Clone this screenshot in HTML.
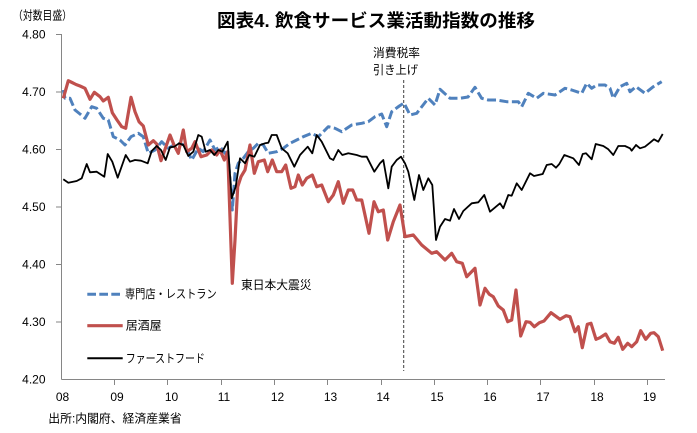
<!DOCTYPE html>
<html><head><meta charset="utf-8"><style>
html,body{margin:0;padding:0;background:#fff;}
svg{display:block;}
text{font-family:"Liberation Sans","Noto Sans CJK JP",sans-serif;fill:#000;}
</style></head><body>
<svg width="697" height="433" viewBox="0 0 697 433" xmlns="http://www.w3.org/2000/svg">
<rect width="697" height="433" fill="#fff"/>
<!-- title -->
<text x="217" y="21" font-size="18" font-weight="bold" dominant-baseline="central" textLength="318" lengthAdjust="spacingAndGlyphs">図表4. 飲食サービス業活動指数の推移</text>
<text x="13" y="15.5" font-size="12" dominant-baseline="central" textLength="59" lengthAdjust="spacingAndGlyphs">（対数目盛）</text>
<!-- axes -->
<g stroke="#868686" stroke-width="1" fill="none">
<line x1="61.5" y1="34" x2="61.5" y2="379.5"/>
<line x1="61.5" y1="379.5" x2="665" y2="379.5"/>
<line x1="56" y1="34.5" x2="61.5" y2="34.5"/>
<line x1="56" y1="92" x2="61.5" y2="92"/>
<line x1="56" y1="149.5" x2="61.5" y2="149.5"/>
<line x1="56" y1="207" x2="61.5" y2="207"/>
<line x1="56" y1="264.5" x2="61.5" y2="264.5"/>
<line x1="56" y1="322" x2="61.5" y2="322"/>
<line x1="114.5" y1="379.5" x2="114.5" y2="385"/>
<line x1="167.5" y1="379.5" x2="167.5" y2="385"/>
<line x1="221.5" y1="379.5" x2="221.5" y2="385"/>
<line x1="274.5" y1="379.5" x2="274.5" y2="385"/>
<line x1="327.5" y1="379.5" x2="327.5" y2="385"/>
<line x1="381.5" y1="379.5" x2="381.5" y2="385"/>
<line x1="434.5" y1="379.5" x2="434.5" y2="385"/>
<line x1="487.5" y1="379.5" x2="487.5" y2="385"/>
<line x1="540.5" y1="379.5" x2="540.5" y2="385"/>
<line x1="594.5" y1="379.5" x2="594.5" y2="385"/>
<line x1="647.5" y1="379.5" x2="647.5" y2="385"/>
</g>
<!-- y labels -->
<g font-size="12" text-anchor="end" dominant-baseline="central">
<text x="45.5" y="34.5">4.80</text>
<text x="45.5" y="92">4.70</text>
<text x="45.5" y="149.5">4.60</text>
<text x="45.5" y="207">4.50</text>
<text x="45.5" y="264.5">4.40</text>
<text x="45.5" y="322">4.30</text>
<text x="45.5" y="379.5">4.20</text>
</g>
<!-- x labels -->
<g font-size="12" text-anchor="middle" dominant-baseline="central">
<text x="62.5" y="397">08</text>
<text x="117" y="397">09</text>
<text x="171.5" y="397">10</text>
<text x="224" y="397">11</text>
<text x="277.5" y="397">12</text>
<text x="330.5" y="397">13</text>
<text x="383" y="397">14</text>
<text x="437" y="397">15</text>
<text x="490" y="397">16</text>
<text x="543" y="397">17</text>
<text x="597" y="397">18</text>
<text x="649.5" y="397">19</text>
</g>
<!-- tax line -->
<line x1="403.7" y1="80" x2="403.7" y2="371" stroke="#404040" stroke-width="1" stroke-dasharray="3 2"/>
<text x="373" y="53" font-size="12" dominant-baseline="central" textLength="47" lengthAdjust="spacingAndGlyphs">消費税率</text>
<text x="373" y="70" font-size="12" dominant-baseline="central" textLength="45" lengthAdjust="spacingAndGlyphs">引き上げ</text>
<text x="241" y="285" font-size="12" dominant-baseline="central" textLength="70.5" lengthAdjust="spacingAndGlyphs">東日本大震災</text>
<!-- series -->
<polyline fill="none" stroke="#4F81BD" stroke-width="3" stroke-dasharray="9 3.5" stroke-linejoin="round" points="63.3,90 65,98.3 70,98.3 75,110 80,114 85,118.3 91.7,106.7 96.7,108.3 103.3,118.3 108.3,120 113.3,136.7 120,140 125,145 131,136.7 138.3,133.3 143.3,136.7 148.3,153.3 155,150 161.7,141.7 168.3,148.3 176.7,143.3 185,145 191.7,160 198.3,148.3 203.3,151.7 210,140 215,150 220,146.7 225,153.3 227.7,150 232.3,210 235,173.3 238.3,163.3 243.3,158.3 248.3,151.7 253.3,148.3 258.3,143.3 263.3,145 268.3,153.3 276.7,151.7 283.3,148.3 290,143.3 296.7,140 303.3,136.7 311.7,133.3 318.3,136.7 321.7,133.3 328.3,126.7 335,128.3 341.7,131.7 351.7,125 361.7,123.3 368.3,121.7 375,116.7 381.7,114 386.7,126.7 391.7,111.7 399.3,106 404,103 410,115 416.7,113.3 428.3,98.3 435,105 440,89.3 450,98.3 460,98.3 468,97 475,87.3 481.7,98.3 488.3,100 496.7,100 506.7,101.7 518.3,101.7 521.7,106.7 528.3,93.3 536.7,98.3 543.3,93.3 555,95 565,88.3 571.7,90 581.7,93.3 586.7,83.3 591.7,88.3 596.7,85 605,85 610,88.3 613.3,98.3 620,86.7 626.7,83.3 630,91.7 636,86.7 645,93.3 653.3,86.7 661.7,81.7"/>
<polyline fill="none" stroke="#C0504D" stroke-width="3.2" stroke-linejoin="round" points="63.3,98.3 68.3,80.7 72,82.5 76,84.5 80,86 85,88.3 90,99.3 94.3,92.3 100,96.7 103.3,101 108.3,97.3 112.3,112.7 117,120 121.7,126.7 125.7,128.3 131,97.3 135,111.7 139,121.7 143.3,126 148.3,145 153.3,140.7 156.7,144 161,160.7 165.5,148 170,135 174,145 178.3,153.3 183.3,130 186.7,151.7 191.7,148.3 195,141.7 201,156.7 206.7,155 211.7,150 216.7,155 220,150 224.3,160 227.7,151.7 232.3,283.3 235,240 237.7,186.7 241,176.7 245,170 250,145 254.3,173.3 258.3,161.7 264.3,160 267.7,171.7 272.3,160 276.7,171.7 281.7,171.7 285.7,165 291,188.3 295,186.7 298.3,175 302.3,185 306.7,178.3 312.3,175 316.7,186.7 321.7,185 328.3,201.7 333.3,195 338.3,181.7 343.3,203.3 348.3,190 352.7,190 356.7,200 361.7,200 369,233.3 374,201.7 378.3,211.7 383.3,210 387.7,240 393.3,221.7 400,205 405,236.7 413.3,235 421.7,245 431.7,253.3 436.7,251.7 445,260 451.7,253.3 456.7,261.7 462.3,263.3 466.7,276.7 475,268.3 480,305 485,288.3 489.3,294.3 493.3,296.7 498.3,306 503.3,310 507.7,321.7 511.7,320 516,290 520.7,336 526,321.7 530,322.3 534.3,326.7 539.3,322.7 544,321 551,312.7 560,319.3 566,315.7 570,316.7 575,331.7 578.3,326.7 582.3,347.7 587.3,324.3 591,323.3 596,339.3 600,337.7 605.7,334 610,341.7 614.3,343.3 618.3,337.3 622.7,349.3 627.7,343.3 631.7,346.7 636.7,341.7 640.7,330.7 645.7,339.3 650.7,333.3 654,332.7 658.3,336.7 662.7,350.7"/>
<polyline fill="none" stroke="#000" stroke-width="1.8" stroke-linejoin="round" points="63.3,179.3 68.3,182.7 76.7,181 81.7,178.3 86.7,164 90,172.3 96.7,171.7 104.3,176.7 107.7,154 112.3,161.7 117.7,177.7 125.7,155 130,161.7 135,160 141,160.7 147.7,163.3 151.7,151 156.7,146 161,150 165.7,160 170,147.3 174.3,146.7 179,143.3 183.3,145 188.3,156 193.3,151.7 198.3,135 201.7,136.7 205.7,151.7 210,150 214.3,155 218.3,150 222.3,151.7 227.7,141.7 231.7,198.3 235.7,186.7 240,158.3 245,163.3 249.3,155 254.3,156.7 260,145 265,143.3 268.3,142.7 271.7,135 276.7,135 281.7,148.3 287.7,153.3 294.3,166.7 300,155 307.7,146.7 312.3,153.3 316.7,135 321.7,141.7 330,158.3 333.3,160 338.3,150 342.3,155 348.3,153.3 356.7,155 361.7,156.7 366.7,156.7 374.3,171.7 380,163.3 383.3,160 388.3,188.3 391.7,166.7 396.7,160 401,156.7 405,163.3 408.3,171.7 414.3,200 419,175 423.3,190 428.3,178.3 432.3,185 436,240 440,226.7 445,219 450,220.7 454,209 459,219 463.3,211 471.7,203.3 478.3,202.3 484.3,195 490,211.7 500,203.3 503.3,208.3 508.3,195 511.7,195.7 516.7,183.3 521.7,190 530,173.3 534,176 542.7,174 546.7,165 551.7,164 556,167.7 559.3,164 564.3,155 573.3,158.3 579,165 582.7,154 586,153.3 591.7,159.3 595.7,144 603.3,146 608.3,149.3 613.3,155 618.3,146 625,146 630,148.3 631.7,150.7 636,145 640,148.3 645,146.7 650,142.7 654,139.3 658.3,141.7 662.7,134"/>
<!-- legend -->
<line x1="87.3" y1="294.3" x2="120" y2="294.3" stroke="#4F81BD" stroke-width="3" stroke-dasharray="8.7 3.3"/>
<line x1="87.3" y1="325.7" x2="122.7" y2="325.7" stroke="#C0504D" stroke-width="3.2"/>
<line x1="87.3" y1="358.3" x2="122.7" y2="358.3" stroke="#000" stroke-width="2"/>
<text x="125" y="294" font-size="12" dominant-baseline="central" textLength="91.7" lengthAdjust="spacingAndGlyphs">専門店・レストラン</text>
<text x="125.7" y="325.7" font-size="12" dominant-baseline="central" textLength="36" lengthAdjust="spacingAndGlyphs">居酒屋</text>
<text x="125.7" y="358.3" font-size="12" dominant-baseline="central" textLength="79.3" lengthAdjust="spacingAndGlyphs">ファーストフード</text>
<!-- source -->
<text x="48.3" y="418.3" font-size="12" dominant-baseline="central" textLength="133.4" lengthAdjust="spacingAndGlyphs">出所:内閣府、経済産業省</text>
</svg>
</body></html>
